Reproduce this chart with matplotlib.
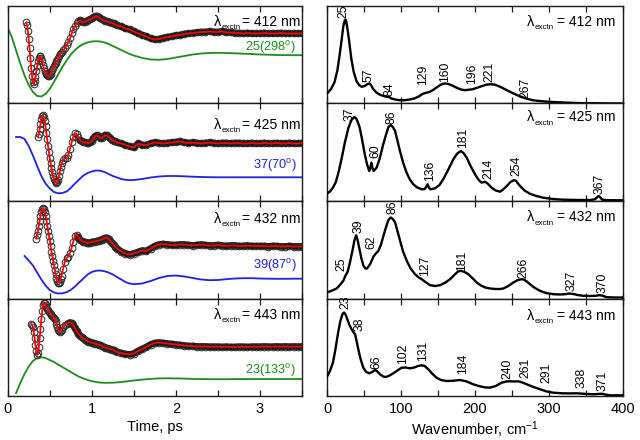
import matplotlib
matplotlib.use('Agg')
import matplotlib.pyplot as plt
from matplotlib.ticker import MultipleLocator
from matplotlib.transforms import offset_copy

plt.rcParams['font.family'] = ['Liberation Sans', 'DejaVu Sans']
plt.rcParams['mathtext.fontset'] = 'custom'
plt.rcParams['mathtext.rm'] = 'Liberation Sans'
plt.rcParams['mathtext.it'] = 'Liberation Sans:italic'
plt.rcParams['mathtext.bf'] = 'Liberation Sans:bold'

# ---------------- data ----------------
EXCITATION = ['412', '425', '432', '443']
COMP_LABELS = ['25(298$^{\\rm o}$)', '37(70$^{\\rm o}$)', '39(87$^{\\rm o}$)', '23(133$^{\\rm o}$)']

# time grids (ps)
T_EARLY = [0.22, 0.23, 0.24, 0.25, 0.26, 0.27, 0.28, 0.29, 0.30, 0.31, 0.32, 0.33, 0.34,
           0.35, 0.36, 0.37, 0.38, 0.39, 0.40, 0.41, 0.42, 0.43, 0.44, 0.45, 0.46, 0.47,
           0.48, 0.49, 0.50, 0.51, 0.52, 0.53, 0.54, 0.55, 0.56, 0.57, 0.58, 0.59, 0.60,
           0.61, 0.62, 0.63, 0.64,
           0.66, 0.68, 0.70, 0.72, 0.74, 0.76, 0.78, 0.80, 0.82, 0.84, 0.86, 0.88, 0.90,
           0.92, 0.94, 0.96, 0.98, 1.00, 1.02, 1.04, 1.06, 1.08, 1.10, 1.12, 1.14, 1.16,
           1.18, 1.20, 1.22, 1.24, 1.26, 1.28, 1.30]
T_LATE = [1.35, 1.40, 1.45, 1.50, 1.55, 1.60, 1.65, 1.70, 1.75, 1.80, 1.85, 1.90, 1.95, 2.00,
          2.05, 2.10, 2.15, 2.20, 2.25, 2.30, 2.35, 2.40, 2.45, 2.50, 2.55, 2.60, 2.65, 2.70,
          2.75, 2.80, 2.85, 2.90, 2.95, 3.00, 3.05, 3.10, 3.15, 3.20, 3.25, 3.30, 3.35, 3.40,
          3.45, 3.50]
T_COMP = [0.00, 0.05, 0.10, 0.15, 0.20, 0.25, 0.30, 0.35, 0.40, 0.45, 0.50, 0.55, 0.60, 0.65,
          0.70, 0.75, 0.80, 0.85, 0.90, 0.95, 1.00, 1.05, 1.10, 1.15, 1.20, 1.25, 1.30, 1.35,
          1.40, 1.45, 1.50, 1.60, 1.70, 1.80, 1.90, 2.00, 2.10, 2.20, 2.30, 2.40, 2.50, 2.60,
          2.70, 2.80, 2.90, 3.00, 3.10, 3.20, 3.30, 3.40, 3.50]

# measured signal (arb. units); early part ends at 1.30 ps
sig412_early = [81, 78, 72, 64, 55, 45, 35, 27, 21, 19.5, 22, 26.5, 32, 37, 42, 45.5, 47, 47,
                45, 42, 38, 35, 32, 30.5, 29, 28, 27.5, 27.5, 28, 29.5, 31, 33, 35, 37, 39,
                40.5, 42, 43.5, 45, 47, 49, 50, 51,
                53, 55, 58, 61, 65, 70, 74, 77, 80, 82.5, 83, 82, 81, 81.5, 82.5, 83.5, 84,
                85, 86, 87, 87.5, 86.5, 85, 84, 83, 82.5, 82, 81.5, 81, 80.5, 80, 79, 78]
sig412_late = [77, 75, 74, 72, 70, 68.5, 67, 65, 64, 64.5,
               65.5, 66.5, 67, 68, 68.5, 69.5, 70, 70.5, 71, 71.5,
               71.5, 72, 71.5, 71.5, 72, 71, 71, 70.5, 70.5, 70,
               70.5, 70, 70, 70, 70.5, 70, 70, 70, 70.5, 70,
               70, 70, 70, 70]
sig425_early = [64, 67, 72, 77, 82, 85, 85.5, 84, 80, 74.5, 68, 61.5, 55, 49, 43, 38, 33, 28.5,
                25, 22, 20, 18.5, 18, 18.5, 21, 25, 30, 34, 37.5,
                41, 42.5, 43, 46, 52, 58.5, 64, 67.5, 67, 63.5, 60.5, 59.5, 59, 58.5, 58, 58,
                58.5, 60, 62.5, 65, 65.5, 64.5, 63, 63, 64.5, 66, 65.5, 64, 62.5, 61, 60,
                59.5, 58.5]
sig425_late = [57.5, 56, 54.5, 53.5, 57.5, 56, 56, 57.5, 58.5, 58,
               57.5, 58, 58.5, 59, 59.5, 58.5, 58, 58.5, 58, 57.5,
               58, 58.5, 58, 57.5, 58, 58, 57.5, 58, 58, 57.5,
               57.5, 58, 57.5, 57.5, 58, 57.5, 57.5, 58, 57.5, 57.5,
               58, 57.5, 57.5, 58]
sig432_early = [60, 63.5, 68, 73, 78, 83, 87, 89.5, 90.5, 89.5, 87, 83, 78, 73, 68, 63, 58,
                52.5, 47, 42.5, 38, 33.5, 29, 25, 21, 18, 16, 15.7, 17, 20, 23,
                30, 37, 40.5, 42, 46, 50.5, 57, 62.5, 64, 61.5, 59, 57.5, 57, 56.5, 55.7,
                55.5, 56, 56.5, 56.7, 57, 57.5, 58, 58.5, 59, 60, 60.5, 60.7, 59.5, 57.5,
                55.7, 53.5, 51.5, 50]
sig432_late = [47, 45, 44, 45, 46.5, 48, 47.5, 50, 52.5, 54,
               54.5, 54, 53.5, 53.5, 54, 54, 53.5, 53, 53.5, 54,
               53.5, 53, 53, 53.5, 53, 52.5, 53, 53, 52.5, 52.5,
               53, 52.5, 52.5, 52.5, 52.5, 52, 52.5, 52.5, 52, 52,
               52.5, 52, 52, 52]
sig443_early = [72, 71, 69, 64, 58, 51, 45, 41.5, 43, 49, 58, 67.5, 77, 85, 91, 93.5, 93, 91,
                89, 87.5, 86, 84.5, 83.5, 82.5, 81.5, 80.5, 79.5, 78.5, 77, 75, 72, 69, 66.5,
                65, 64.5, 65, 66.5,
                69.5, 71.5, 72.5, 73.3, 73.5, 73, 71, 68, 65, 62.5, 60.5, 59, 57.7, 56.5,
                55.5, 54.5, 54, 53.3, 53, 52.5, 52, 51.5, 51, 50, 49, 48.5, 48, 47.5, 47,
                46.5, 46, 45, 44]
sig443_late = [43, 42, 41.5, 42.5, 45, 47, 49, 51.5, 53, 53.5,
               53, 52.5, 52, 51.5, 51, 50.5, 50, 50, 49.5, 49.5,
               49.5, 49.3, 49.3, 49.3, 49, 49.3, 49, 49, 49.3, 49.3,
               49, 49.3, 49.3, 49.3, 49.5, 49.3, 49.3, 49.5, 49.3, 49.5,
               49.3, 49.5, 49.3, 49.5]

# single oscillatory components (arb. units), aligned to the end of T_COMP
comp412 = [76, 66, 53, 40, 28, 18.5, 11.5, 7.5, 7, 9.5, 14.5, 21.5, 29, 36.5, 43, 49, 53.5,
           57, 59.5, 61, 62, 62.3, 62, 61, 59.5, 57.5, 55.5, 53.5, 51.5, 49.5, 48,
           45.5, 44, 43.7, 44.5, 46, 47.5, 49, 50, 50.5, 50.7, 50.5, 50.2, 49.8, 49.5, 49,
           48.8, 48.5, 48.4, 48.3, 48.3]
comp425 = [64, 64, 62, 55, 45.5, 35, 25, 17.5, 12.5, 9, 7.7, 8, 9.5, 13, 17.5, 21.5, 25.5,
           28, 29.5, 30.5, 30.3, 29, 27, 25, 23.5, 22, 21.2, 20.8, 21,
           22, 23.5, 24.5, 25, 25, 24.7, 24.3, 24, 23.8, 23.7, 23.7, 23.7, 23.7, 23.7, 23.7,
           23.7, 23.7, 23.7, 23.7, 23.7]
comp432 = [42.5, 38, 33, 26, 19, 13, 8.5, 6, 5, 5.2, 6.3, 8.5, 12, 16, 20, 24, 26.5, 27.8,
           28, 27.3, 26, 24, 21.5, 19, 16.5, 15, 14.3,
           15, 17.5, 20.5, 22.5, 23, 22, 20.5, 19, 18.3, 18.5, 19.3, 20, 20.3, 20.3, 20,
           19.8, 19.7, 19.7, 19.8, 19.8]
comp443 = [3, 13, 22, 29.5, 35, 38, 38.7, 38, 36, 34, 31.5, 29, 26.5, 24, 21.5, 19.3, 17.5,
           16, 14.8, 14, 13.4, 13.2, 13.2, 13.3, 13.6, 14, 14.5, 15, 15.5,
           16.4, 17.1, 17.6, 17.7, 17.6, 17.4, 17.1, 16.9, 16.8, 16.8, 16.8, 16.9, 16.9, 17,
           17, 17, 17, 17, 17, 17]

# Fourier power spectra: wavenumber (cm-1) and amplitude (arb. units)
wn412 = [0, 5, 10, 14, 17, 20, 22, 24, 25, 26, 28, 30, 33, 36, 40, 44, 47, 51, 55, 57, 59,
         62, 66, 71, 76, 81, 84, 87, 92, 98, 105, 112, 118, 124, 129, 133, 138, 143, 148,
         153, 157, 160, 164, 170, 176, 182, 187, 192, 197, 203, 209, 215, 221, 227, 234,
         240, 246, 252, 258, 265, 270, 278, 288, 300, 320, 340, 370, 400]
amp412 = [10, 14, 21, 33, 48, 65, 77, 83, 84, 82, 73, 62, 44, 32, 22, 18, 16.7, 17.5, 19.5,
          20, 19, 15, 11.5, 9, 7.5, 6.7, 6.5, 5, 4, 3.3, 3.3, 4, 5, 7, 9.5, 10.5, 11.5, 13.3,
          16, 18.5, 19.8, 20, 19.5, 17.7, 15.5, 13.8, 13.3, 13.8, 14.3, 15.8, 17.3, 18.8,
          19.3, 18.8, 16.7, 14.5, 12.2, 10, 8, 6, 4.8, 3.3, 2.4, 1.7, 1, 0.4, 0.2, 0]
wn425 = [0, 4, 8, 12, 16, 20, 24, 29, 33, 37, 40, 44, 47, 51, 54, 57, 58.5, 60, 61.5, 63, 67,
         71, 76, 80, 83, 86, 89, 92, 95, 98.6, 103, 107.6, 112, 116.6, 122, 128, 132, 134,
         136, 138, 140, 146, 152, 157, 163, 170.7, 176, 181, 185, 189, 194, 200, 205, 209,
         213.5, 217, 222.5, 228, 233.8, 238, 243, 248, 252, 255, 260.8, 267, 274, 283, 292,
         305, 319, 340, 355, 362, 365, 367, 369, 372, 380, 400]
amp425 = [7.3, 9.5, 13.3, 19, 30, 43.3, 58, 73.3, 81, 84, 82, 74, 63, 47, 37, 30, 33, 38.3,
          33, 30, 33.3, 42, 56.7, 67, 74, 76, 74, 70, 61, 50, 38, 28.3, 21.5, 16.7, 13.5,
          11.7, 12, 14, 16.7, 13, 11.7, 12.7, 16, 21.7, 30, 41.7, 47.5, 50, 47.5, 43, 35,
          26.7, 21, 18.3, 19.3, 17.5, 13.3, 10.5, 9.3, 11.5, 15, 19, 20.7, 20.5, 15, 10.5,
          7.3, 5, 3.3, 2, 1.3, 1, 1, 1.7, 3.8, 5, 3.8, 1.3, 0.8, 0.7]
wn432 = [0, 7, 13, 18, 22, 25, 28, 31, 34.8, 37, 39.4, 41.5, 43.9, 46.5, 49.3, 52, 54, 58.3,
         62.8, 66, 69.5, 73, 76.3, 80, 83, 86, 89, 92, 95, 98.8, 103, 107.8, 113, 119, 124,
         128, 133, 139.3, 146, 152.8, 160, 166.3, 172, 177, 181, 186, 191, 197, 202.4, 208,
         214, 220.4, 228, 234, 238.4, 245, 251.8, 258, 263, 266, 270, 274.3, 281, 287.8,
         296, 305.8, 315, 322, 327, 333, 340, 346.4, 355, 363, 368, 371, 378, 390, 400]
amp432 = [6, 8, 10, 14, 17.7, 23, 27, 36, 49.3, 58, 63.3, 58, 49.3, 40, 32.7, 30, 30, 34.3,
          42, 45, 47.7, 54, 62.7, 72, 78.5, 81, 79.5, 76, 68, 57.7, 46.5, 37.7, 30, 24.3,
          21, 19.3, 16.5, 13.3, 12.5, 13.3, 16, 19.3, 23.5, 27, 27.7, 26.5, 24.3, 20, 16,
          13, 11, 10, 9.5, 9.5, 10, 12.5, 16, 18.5, 19.3, 19, 17, 14.3, 10.5, 7.7, 5.5,
          4.3, 4, 4.3, 5, 4.5, 3.3, 2.7, 2.5, 2.7, 3.3, 3, 1.3, 1, 1]
wn443 = [0, 4, 8, 11, 15, 18, 21, 23, 25, 27.5, 30, 33.3, 36, 38, 40, 42.3, 45, 49, 53,
         57.2, 61, 64.8, 68, 71.6, 76, 79.7, 84, 89.6, 95, 100.9, 106, 112, 118, 123,
         127.9, 132, 136.9, 142, 148, 154, 161.7, 170, 179.8, 188, 197.6, 205, 213, 220,
         228, 236, 242, 247.4, 253, 258.6, 264, 270, 278, 288, 297, 306, 318, 328, 337.4,
         348, 360, 366, 371, 376, 382, 400]
amp443 = [19.3, 25, 33.3, 45, 63.3, 75, 82, 83.5, 81.5, 76.7, 71.5, 66.7, 63.5, 61.7, 55,
          46.7, 38, 28.3, 24, 22.7, 24, 26, 24.5, 21.7, 19.5, 19, 20.3, 22.7, 25.5, 28.3,
          28.5, 27.7, 28.5, 30, 30.7, 30, 26.7, 22.5, 18.3, 16, 15, 15.2, 16, 14.7, 11.7,
          10, 8.7, 8.3, 10, 13.3, 14.5, 14.7, 14.5, 14.7, 13.5, 11.7, 9.3, 6.7, 4.5, 3.3,
          2.7, 2.6, 2.7, 2.2, 1.7, 2, 2.3, 1.5, 0.7, 0.7]

# peak annotations (cm-1)
peaks412 = [25, 57, 84, 129, 160, 196, 221, 267]
peaks425 = [37, 60, 86, 136, 181, 214, 254, 367]
peaks432 = [25, 39, 62, 86, 127, 181, 266, 327, 370]
peaks443 = [23, 38, 66, 102, 131, 184, 240, 261, 291, 338, 371]

# ---------------- layout / style ----------------
SIG_EARLY = [sig412_early, sig425_early, sig432_early, sig443_early]
SIG_LATE = [sig412_late, sig425_late, sig432_late, sig443_late]
COMPS = [comp412, comp425, comp432, comp443]
WNS = [wn412, wn425, wn432, wn443]
AMPS = [amp412, amp425, amp432, amp443]
PEAKS = [peaks412, peaks425, peaks432, peaks443]
COMP_COLORS = ['#1c8c1c', '#1f1fe8', '#1f1fe8', '#1c8c1c']
BAND_FROM = [0.86, 0.86, 0.84, 0.74]

LAB_X = [[22, 56, 85, 130, 159.5, 195.5, 220, 267.5],
         [31, 66, 86.5, 140, 184, 218, 256, 369],
         [19.4, 42.3, 60, 88.7, 132.6, 182, 265.3, 330.6, 372],
         [25, 44, 67, 103, 130, 184, 244, 268, 297, 344, 372]]
LAB_Y = [[86, 21.7, 7.7, 18.3, 21.7, 20, 21.7, 5],
         [80, 43.3, 76.7, 20, 53.3, 21.7, 25, 6.7],
         [27.7, 66, 49.3, 84.3, 22.7, 27.7, 21, 7.7, 6],
         [86.7, 65, 26.7, 31.7, 35, 21.7, 16.7, 18.3, 13.3, 8.3, 5]]
LAM_Y_LEFT = [0.796, 0.742, 0.776, 0.794]
LAM_Y_RIGHT = [0.80, 0.818, 0.79, 0.78]
COMP_Y = [0.54, 0.33, 0.306, 0.227]

W, H = 640, 440
fig = plt.figure(figsize=(6.4, 4.4), dpi=100)
renderer = fig.canvas.get_renderer()
top_px, bot_px = 6, 396
ph = (bot_px - top_px) / 4


def style(ax, xmaj, xmin_, show):
    for s in ax.spines.values():
        s.set_linewidth(1.0)
        s.set_color('#1a1a1a')
    ax.tick_params(axis='x', which='both', direction='in', top=True, bottom=True,
                   labelbottom=show, labelsize=10.5, pad=4, width=0.9, color='#1a1a1a',
                   length=4.5)
    ax.tick_params(axis='y', which='both', left=False, right=False, labelleft=False)
    ax.xaxis.set_major_locator(MultipleLocator(xmaj))
    ax.xaxis.set_minor_locator(MultipleLocator(xmin_))


def lam_label(ax, xfrac, yfrac, nm, gap_px):
    """λ with a small dropped 'exctn' subscript, right aligned at xfrac."""
    inv = ax.transAxes.inverted()
    t1 = ax.text(xfrac, yfrac, '= %s nm' % nm, transform=ax.transAxes,
                 ha='right', va='baseline', fontsize=10)
    x0 = t1.get_window_extent(renderer).x0 - gap_px
    xa = inv.transform((x0, 0))[0]
    drop = offset_copy(ax.transAxes, fig=fig, x=0, y=-3.5, units='dots')
    t2 = ax.text(xa, yfrac, 'exctn', transform=drop, ha='right', va='baseline',
                 fontsize=5.8)
    x1 = t2.get_window_extent(renderer).x0 - 0.3
    xb = inv.transform((x1, 0))[0]
    ax.text(xb, yfrac, 'λ', transform=ax.transAxes, ha='right', va='baseline',
            fontsize=10.5)


for i in range(4):
    y0 = 1 - (top_px + ph * (i + 1)) / H
    axl = fig.add_axes([7.7 / W, y0, 294.3 / W, ph / H])
    axr = fig.add_axes([327 / W, y0, 296 / W, ph / H])
    last = (i == 3)

    # ---- time domain ----
    early = SIG_EARLY[i]
    t = T_EARLY[len(T_EARLY) - len(early):] + T_LATE
    s = early + SIG_LATE[i]
    tb = [a for a in t if a >= BAND_FROM[i]]
    sb = s[len(s) - len(tb):]
    axl.plot(tb, sb, color='#111111', lw=4.8, solid_capstyle='round',
             solid_joinstyle='round', zorder=2)
    axl.plot(t, s, linestyle='none', marker='o', ms=4.8, mfc='none', mec='#2a2a2a',
             mew=0.7, zorder=3)
    axl.plot(t, s, color='red', lw=1.3, zorder=4)
    comp = COMPS[i]
    tc = T_COMP[len(T_COMP) - len(comp):]
    axl.plot(tc, comp, color=COMP_COLORS[i], lw=1.3, zorder=2)
    axl.set_xlim(0, 3.5)
    axl.set_ylim(0, 97.5)
    style(axl, 1, 0.5, last)
    lam_label(axl, 0.994, LAM_Y_LEFT[i], EXCITATION[i], 1.0)
    axl.text(0.98, COMP_Y[i], COMP_LABELS[i], transform=axl.transAxes, ha='right',
             va='baseline', fontsize=9.2, color=COMP_COLORS[i])

    # ---- frequency domain ----
    axr.plot(WNS[i], AMPS[i], color='black', lw=1.7, zorder=3,
             solid_joinstyle='round')
    axr.set_xlim(0, 400)
    axr.set_ylim(0, 97.5)
    style(axr, 100, 50, last)
    lam_label(axr, 0.973, LAM_Y_RIGHT[i], EXCITATION[i], 3.0)
    for p, lx, ly in zip(PEAKS[i], LAB_X[i], LAB_Y[i]):
        axr.text(lx, ly, str(p), rotation=90, ha='center', va='bottom', fontsize=8.8,
                 zorder=5)

    if last:
        axl.set_xlabel('Time, ps', fontsize=10.5, labelpad=3)
        axr.set_xlabel('Wavenumber, cm$^{\\mathrm{-1}}$', fontsize=10.5, labelpad=3)

fig.savefig('out.png', dpi=100)
